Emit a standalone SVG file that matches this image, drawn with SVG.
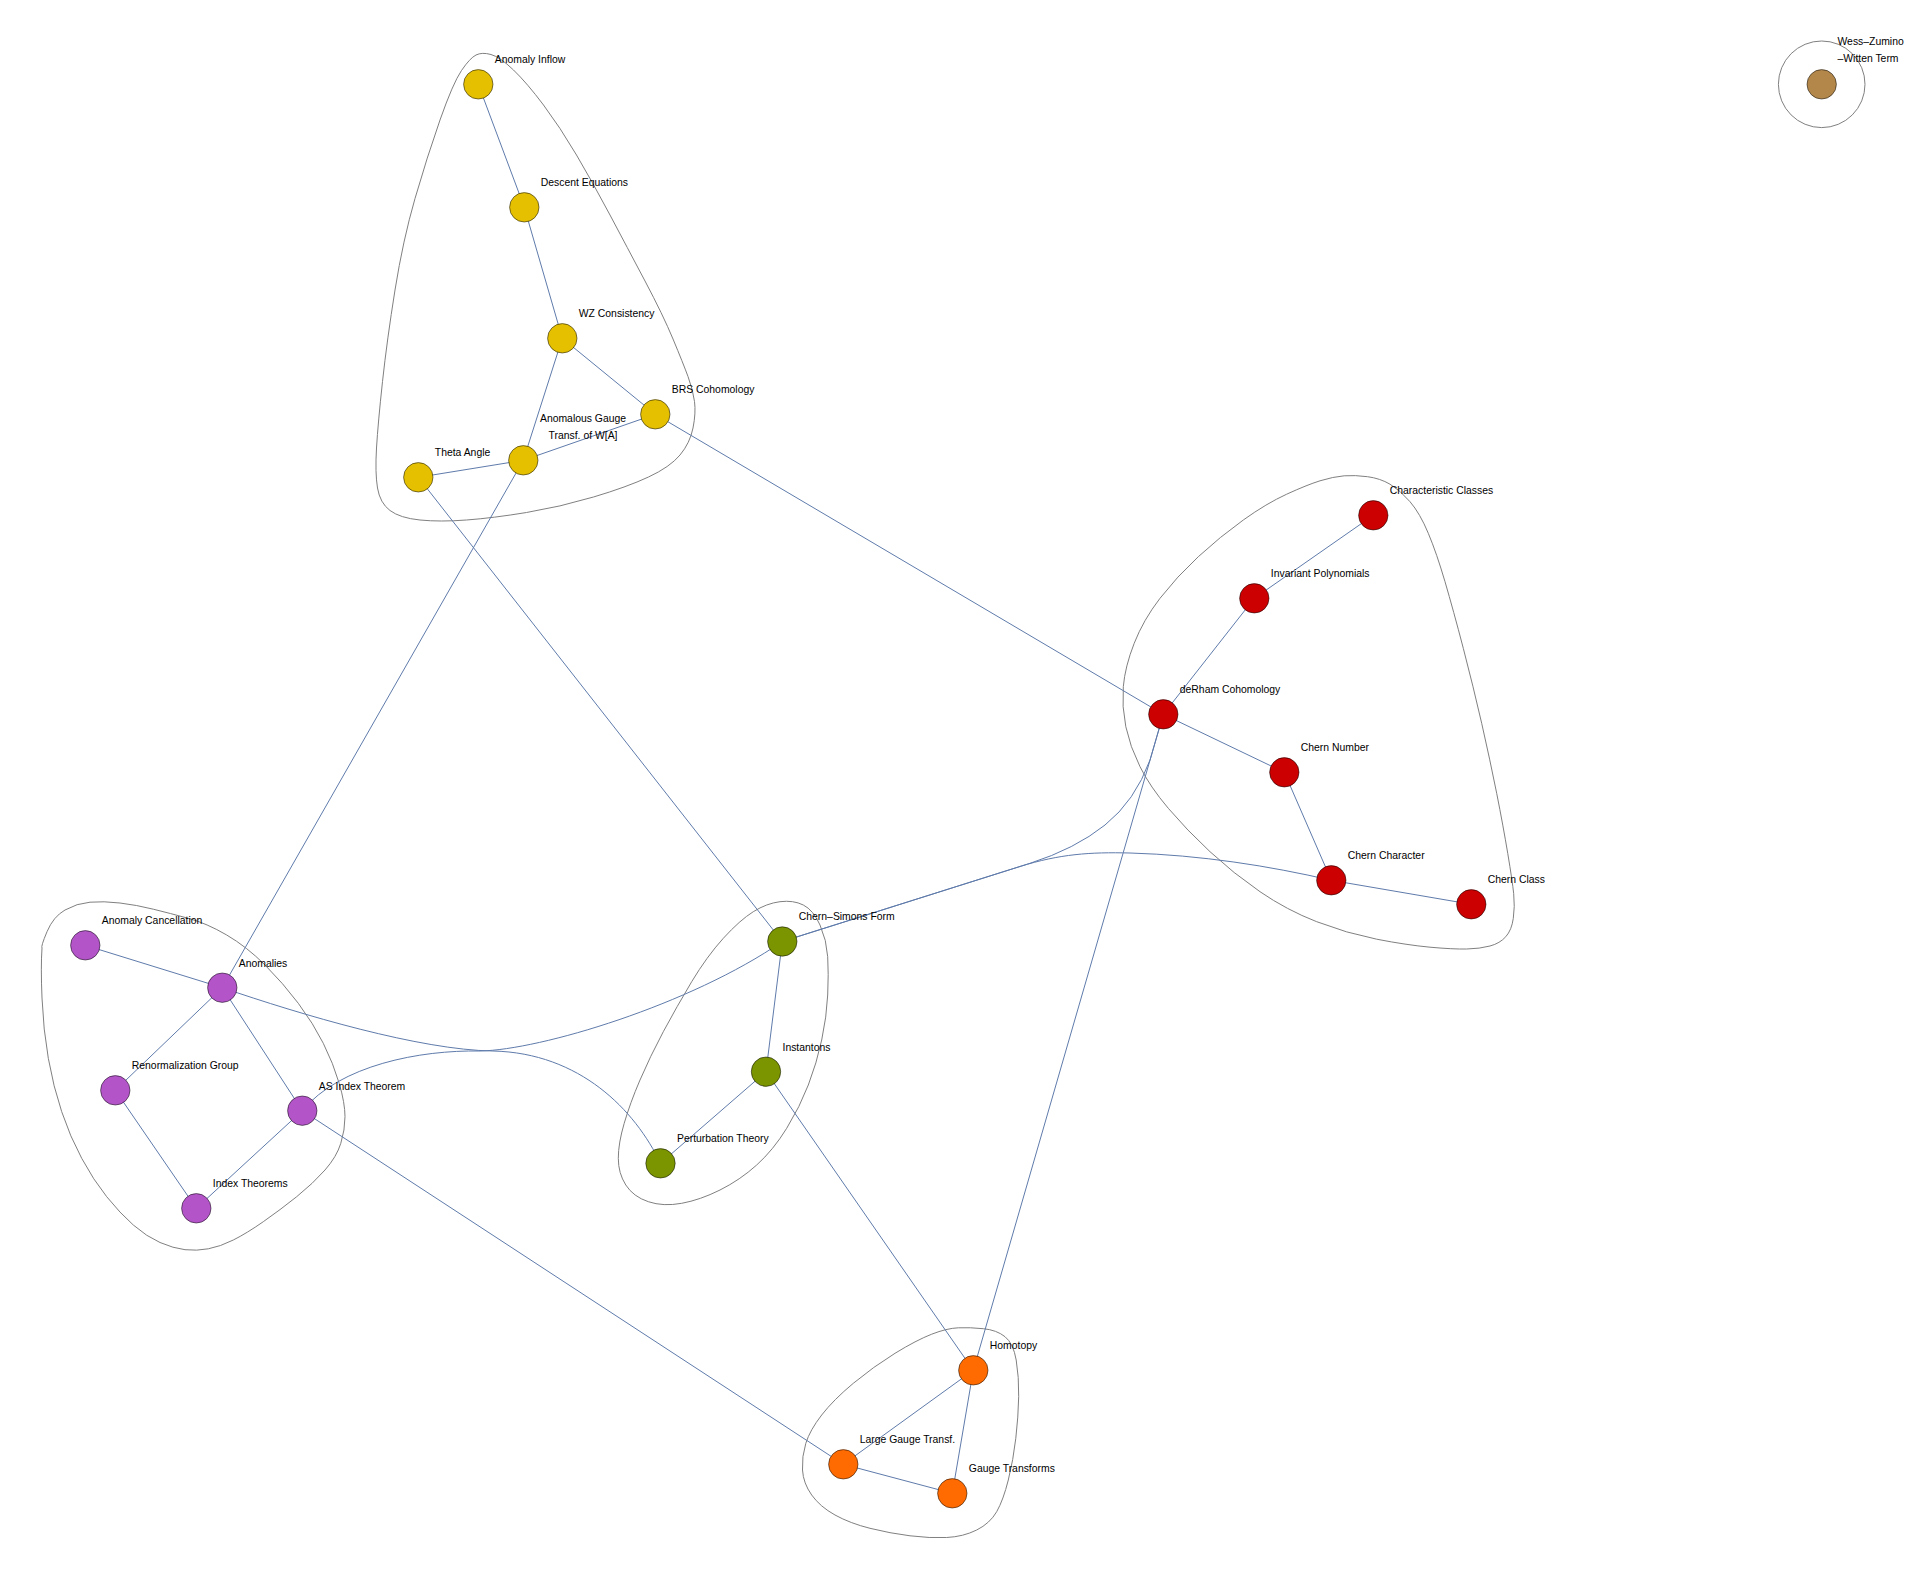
<svg xmlns="http://www.w3.org/2000/svg" width="1907" height="1577" viewBox="0 0 1907 1577">
<style>
.hull{fill:none;stroke:#808080;stroke-width:1}
.e{fill:none;stroke:#5f7bab;stroke-width:1}
.n{stroke:#000;stroke-opacity:0.5;stroke-width:1}
.y{fill:#E5C000}.r{fill:#CC0000}.p{fill:#B355C9}.g{fill:#7A9500}.o{fill:#FF6B00}.b{fill:#B3874A}
text{font-family:"Liberation Sans",Arial,sans-serif;font-size:10.4px;fill:#000}
</style>
<rect width="1907" height="1577" fill="#fff"/>
<g id="hulls">
<path class="hull" d="M476,55 Q482,52 491,54.5 Q500,57 513.5,70 Q527,83 543.5,105 Q560,127 576.5,155 Q593,183 610,215 Q627,247 645,281 Q663,315 673,339 Q683,363 688,376.5 Q693,390 694.5,401.5 Q696,413 693,428 Q690,443 680,455 Q670,467 648.5,477 Q627,487 593.5,497 Q560,507 526.5,512.5 Q493,518 466.5,520 Q440,522 420,520 Q400,518 390,510.5 Q380,503 377.5,488 Q375,473 376.5,448 Q378,423 382.5,381.5 Q387,340 395,290 Q403,240 415,198.5 Q427,157 440,120 Q453,83 461.5,70.5 Q470,58 476,55 Z"/>
<path class="hull" d="M1344.2,475.8 Q1355,475 1367.5,476.7 Q1380,478.3 1390,484.2 Q1400,490 1410,501.7 Q1420,513.3 1428.3,533.3 Q1436.7,553.3 1445,581.7 Q1453.3,610 1463.3,648.3 Q1473.3,686.7 1481.7,723.3 Q1490,760 1496.7,793.3 Q1503.3,826.7 1507.8,853.7 Q1512.3,880.7 1513.7,893.7 Q1515,906.7 1513.3,918.3 Q1511.7,930 1505.8,936.7 Q1500,943.3 1490,946 Q1480,948.7 1466.7,949 Q1453.3,949.3 1430,947.2 Q1406.7,945 1376.7,939.2 Q1346.7,933.3 1316.7,921.7 Q1286.7,910 1260,891.7 Q1233.3,873.3 1210,851.7 Q1186.7,830 1168.3,808.3 Q1150,786.7 1140,766.7 Q1130,746.7 1125.8,726.7 Q1121.7,706.7 1123.3,686.7 Q1125,666.7 1134.2,643.3 Q1143.3,620 1160,598.3 Q1176.7,576.7 1198.3,556.7 Q1220,536.7 1243.3,520 Q1266.7,503.3 1286.7,494.2 Q1306.7,485 1320,480.8 Q1333.3,476.7 1344.2,475.8 Z"/>
<path class="hull" d="M42,948 Q40.7,966.7 42,998 Q43.3,1030 48.3,1058.3 Q53.3,1086.7 61.7,1111.7 Q70,1136.7 81.7,1158.3 Q93.3,1180 106.7,1196.7 Q120,1213.3 133.3,1225 Q146.7,1236.7 160,1242.5 Q173.3,1248.3 185,1249.7 Q196.7,1251 208.3,1248.8 Q220,1246.7 233.3,1240 Q246.7,1233.3 263.3,1221.7 Q280,1210 296.7,1196.7 Q313.3,1183.3 325,1170 Q336.7,1156.7 340.8,1143.3 Q345,1130 345,1116.7 Q345,1103.3 339.2,1083.3 Q333.3,1063.3 323.3,1043.3 Q313.3,1023.3 298.3,1003.3 Q283.3,983.3 265,965 Q246.7,946.7 226.7,935 Q206.7,923.3 188.3,918.3 Q170,913.3 153.3,909.2 Q136.7,905 120,903 Q103.3,901 90,902.2 Q76.7,903.3 65,910 Q53.3,916.7 47,931.7 Q40.7,946.7 42,948 Z"/>
<path class="hull" d="M780,901.7 Q793.3,900 803.3,905 Q813.3,910 820,925 Q826.7,940 827.7,956.7 Q828.7,973.3 827.7,995 Q826.7,1016.7 821.7,1040 Q816.7,1063.3 808.3,1085 Q800,1106.7 786.7,1128.3 Q773.3,1150 756.7,1165 Q740,1180 720,1190 Q700,1200 681.7,1203.3 Q663.3,1206.7 648.3,1201.7 Q633.3,1196.7 625.8,1185 Q618.3,1173.3 618.3,1158.3 Q618.3,1143.3 624.2,1123.3 Q630,1103.3 640,1080 Q650,1056.7 663.3,1031.7 Q676.7,1006.7 691.7,981.7 Q706.7,956.7 723.3,938.3 Q740,920 753.3,911.7 Q766.7,903.3 780,901.7 Z"/>
<path class="hull" d="M958.3,1327.8 Q970,1327.3 983.3,1328.7 Q996.7,1330 1005,1336.7 Q1013.3,1343.3 1016.2,1360 Q1019,1376.7 1018.7,1396.7 Q1018.3,1416.7 1015.8,1438.3 Q1013.3,1460 1008.3,1480 Q1003.3,1500 996.7,1511.7 Q990,1523.3 976.7,1530 Q963.3,1536.7 946.7,1537.5 Q930,1538.3 910,1535.8 Q890,1533.3 870,1528.3 Q850,1523.3 835,1515 Q820,1506.7 811.7,1495 Q803.3,1483.3 802.5,1470 Q801.7,1456.7 805.8,1443.3 Q810,1430 821.7,1415 Q833.3,1400 853.3,1383.3 Q873.3,1366.7 895,1353.3 Q916.7,1340 931.7,1334.2 Q946.7,1328.3 958.3,1327.8 Z"/>
<circle class="hull" cx="1821.7" cy="84.3" r="43.3"/>
</g>
<g id="edges">
<line class="e" x1="478.3" y1="84.3" x2="524.3" y2="207.3"/>
<line class="e" x1="524.3" y1="207.3" x2="562.3" y2="338.3"/>
<line class="e" x1="562.3" y1="338.3" x2="655.3" y2="414.3"/>
<line class="e" x1="562.3" y1="338.3" x2="523.3" y2="460.3"/>
<line class="e" x1="523.3" y1="460.3" x2="655.3" y2="414.3"/>
<line class="e" x1="418.3" y1="477.3" x2="523.3" y2="460.3"/>
<line class="e" x1="655.3" y1="414.3" x2="1163.3" y2="714.3"/>
<line class="e" x1="418.3" y1="477.3" x2="782.3" y2="941.5"/>
<line class="e" x1="523.3" y1="460.3" x2="222.3" y2="987.7"/>
<line class="e" x1="1373.3" y1="515.3" x2="1254.3" y2="598.3"/>
<line class="e" x1="1254.3" y1="598.3" x2="1163.3" y2="714.3"/>
<line class="e" x1="1163.3" y1="714.3" x2="1284.3" y2="772.3"/>
<line class="e" x1="1284.3" y1="772.3" x2="1331.3" y2="880.3"/>
<line class="e" x1="1331.3" y1="880.3" x2="1471.3" y2="904.3"/>
<path class="e" d="M782.3,941.5 L1020,866.5 C1060,854 1090,852 1130,853 C1200,855 1270,866 1331.3,880.3"/>
<path class="e" d="M782.3,941.5 L1030,863.3 Q1075,849 1105,825 Q1135,801 1150,760 L1163.3,714.3"/>
<line class="e" x1="1163.3" y1="714.3" x2="973.3" y2="1370.3"/>
<line class="e" x1="85.3" y1="945.3" x2="222.3" y2="987.7"/>
<line class="e" x1="222.3" y1="987.7" x2="115.3" y2="1090.3"/>
<line class="e" x1="222.3" y1="987.7" x2="302.3" y2="1110.7"/>
<path class="e" d="M222.3,987.7 C302,1015 420,1050 493,1051 C580,1053 635,1110 660.5,1163.3"/>
<line class="e" x1="115.3" y1="1090.3" x2="196.3" y2="1208.3"/>
<line class="e" x1="302.3" y1="1110.7" x2="196.3" y2="1208.3"/>
<path class="e" d="M302.3,1110.7 C340,1065 420,1050 480,1051 C540,1050 690,1005 782.3,941.5"/>
<line class="e" x1="302.3" y1="1110.7" x2="843.3" y2="1464.3"/>
<line class="e" x1="782.3" y1="941.5" x2="766" y2="1071.7"/>
<line class="e" x1="766" y1="1071.7" x2="660.5" y2="1163.3"/>
<line class="e" x1="766" y1="1071.7" x2="973.3" y2="1370.3"/>
<line class="e" x1="973.3" y1="1370.3" x2="843.3" y2="1464.3"/>
<line class="e" x1="973.3" y1="1370.3" x2="952.3" y2="1493.3"/>
<line class="e" x1="843.3" y1="1464.3" x2="952.3" y2="1493.3"/>
</g>
<g id="node-anomaly-inflow"><circle class="n y" cx="478.3" cy="84.3" r="14.7"/><text x="494.8" y="63.3">Anomaly Inflow</text></g>
<g id="node-descent-equations"><circle class="n y" cx="524.3" cy="207.3" r="14.7"/><text x="540.8" y="186.3">Descent Equations</text></g>
<g id="node-wz-consistency"><circle class="n y" cx="562.3" cy="338.3" r="14.7"/><text x="578.8" y="317.3">WZ Consistency</text></g>
<g id="node-brs-cohomology"><circle class="n y" cx="655.3" cy="414.3" r="14.7"/><text x="671.8" y="393.3">BRS Cohomology</text></g>
<g id="node-anomalous-gauge"><circle class="n y" cx="523.3" cy="460.3" r="14.7"/><text x="583" y="422" text-anchor="middle">Anomalous Gauge</text><text x="583" y="439" text-anchor="middle">Transf. of W[A]</text></g>
<g id="node-theta-angle"><circle class="n y" cx="418.3" cy="477.3" r="14.7"/><text x="434.8" y="456.3">Theta Angle</text></g>
<g id="node-characteristic-classes"><circle class="n r" cx="1373.3" cy="515.3" r="14.7"/><text x="1389.8" y="494.3">Characteristic Classes</text></g>
<g id="node-invariant-polynomials"><circle class="n r" cx="1254.3" cy="598.3" r="14.7"/><text x="1270.8" y="577.3">Invariant Polynomials</text></g>
<g id="node-derham-cohomology"><circle class="n r" cx="1163.3" cy="714.3" r="14.7"/><text x="1179.8" y="693.3">deRham Cohomology</text></g>
<g id="node-chern-number"><circle class="n r" cx="1284.3" cy="772.3" r="14.7"/><text x="1300.8" y="751.3">Chern Number</text></g>
<g id="node-chern-character"><circle class="n r" cx="1331.3" cy="880.3" r="14.7"/><text x="1347.8" y="859.3">Chern Character</text></g>
<g id="node-chern-class"><circle class="n r" cx="1471.3" cy="904.3" r="14.7"/><text x="1487.8" y="883.3">Chern Class</text></g>
<g id="node-anomaly-cancellation"><circle class="n p" cx="85.3" cy="945.3" r="14.7"/><text x="101.8" y="924.3">Anomaly Cancellation</text></g>
<g id="node-anomalies"><circle class="n p" cx="222.3" cy="987.7" r="14.7"/><text x="238.8" y="966.7">Anomalies</text></g>
<g id="node-renormalization-group"><circle class="n p" cx="115.3" cy="1090.3" r="14.7"/><text x="131.8" y="1069.3">Renormalization Group</text></g>
<g id="node-as-index-theorem"><circle class="n p" cx="302.3" cy="1110.7" r="14.7"/><text x="318.8" y="1089.7">AS Index Theorem</text></g>
<g id="node-index-theorems"><circle class="n p" cx="196.3" cy="1208.3" r="14.7"/><text x="212.8" y="1187.3">Index Theorems</text></g>
<g id="node-chern-simons-form"><circle class="n g" cx="782.3" cy="941.5" r="14.7"/><text x="798.8" y="920">Chern–Simons Form</text></g>
<g id="node-instantons"><circle class="n g" cx="766" cy="1071.7" r="14.7"/><text x="782.5" y="1050.7">Instantons</text></g>
<g id="node-perturbation-theory"><circle class="n g" cx="660.5" cy="1163.3" r="14.7"/><text x="677" y="1142.3">Perturbation Theory</text></g>
<g id="node-homotopy"><circle class="n o" cx="973.3" cy="1370.3" r="14.7"/><text x="989.8" y="1349.3">Homotopy</text></g>
<g id="node-large-gauge-transf"><circle class="n o" cx="843.3" cy="1464.3" r="14.7"/><text x="859.8" y="1443.3">Large Gauge Transf.</text></g>
<g id="node-gauge-transforms"><circle class="n o" cx="952.3" cy="1493.3" r="14.7"/><text x="968.8" y="1472.3">Gauge Transforms</text></g>
<g id="node-wess-zumino-witten-term"><circle class="n b" cx="1821.7" cy="84.3" r="14.7"/><text x="1837.5" y="45">Wess–Zumino</text><text x="1837.5" y="61.7">–Witten Term</text></g>
</svg>
